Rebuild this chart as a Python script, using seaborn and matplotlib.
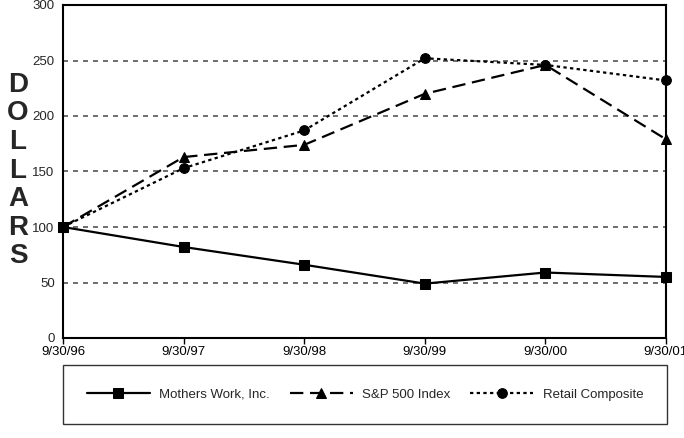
import matplotlib
matplotlib.use("Agg")
import matplotlib.pyplot as plt
import seaborn as sns
import pandas as pd

dates = ["9/30/96", "9/30/97", "9/30/98", "9/30/99", "9/30/00", "9/30/01"]
mothers_work = [100, 82, 66, 49, 59, 55]
sp500 = [100, 163, 174, 220, 246, 179]
retail = [100, 153, 187, 252, 246, 232]
series_names = ["Mothers Work, Inc.", "S&P 500 Index", "Retail Composite"]

sns.set_style("white")
plt.rcParams["font.family"] = ["Liberation Sans", "DejaVu Sans"]

rows = []
for name, vals in zip(series_names, [mothers_work, sp500, retail]):
    for i, v in enumerate(vals):
        rows.append({"idx": i, "value": v, "series": name})
df = pd.DataFrame(rows)

fig = plt.figure(figsize=(6.84, 4.38), dpi=100)
ax = fig.add_axes([63 / 684, 1 - 338 / 438, 603 / 684, 333 / 438])

for y in [50, 100, 150, 200, 250]:
    ax.axhline(y, color="#555555", lw=1.2, ls=(0, (3, 3)), zorder=0)

sns.lineplot(data=df, x="idx", y="value", hue="series", style="series",
             hue_order=series_names, style_order=series_names,
             palette=["black"] * 3,
             dashes={series_names[0]: "", series_names[1]: (6, 3),
                     series_names[2]: (1.5, 1.5)},
             markers={series_names[0]: "s", series_names[1]: "^",
                      series_names[2]: "o"},
             markersize=7, markeredgecolor="black", lw=1.6,
             ax=ax, legend=True, clip_on=False, zorder=3)

ax.set_xlim(0, 5)
ax.set_ylim(0, 300)
ax.set_yticks(range(0, 301, 50))
ax.set_xticks(range(len(dates)))
ax.set_xticklabels(dates)
ax.tick_params(axis="x", direction="out", length=4, width=1, colors="black",
               labelsize=9.5, bottom=True, pad=2)
ax.tick_params(axis="y", length=0, labelsize=9.5, pad=6)
ax.set_xlabel("")
ax.set_ylabel("")
for s in ax.spines.values():
    s.set_color("black")
    s.set_linewidth(1.5)

handles, labels = ax.get_legend_handles_labels()
ax.get_legend().remove()
leg = fig.legend(handles, labels, loc="center", ncol=3, mode="expand",
                 bbox_to_anchor=(63 / 684, 1 - 425 / 438, 604 / 684, 61 / 438),
                 frameon=True, fancybox=False, edgecolor="black",
                 fontsize=9.5, handlelength=4.8, handletextpad=0.7,
                 borderpad=1.8, borderaxespad=0)
leg.get_frame().set_linewidth(1.0)

letters = "DOLLARS"
for k, ch in enumerate(letters):
    fig.text(18 / 684, 1 - (85 + 28.5 * k) / 438, ch, ha="center", va="center",
             fontsize=20, fontweight="bold")

fig.savefig("out.png", dpi=100)
